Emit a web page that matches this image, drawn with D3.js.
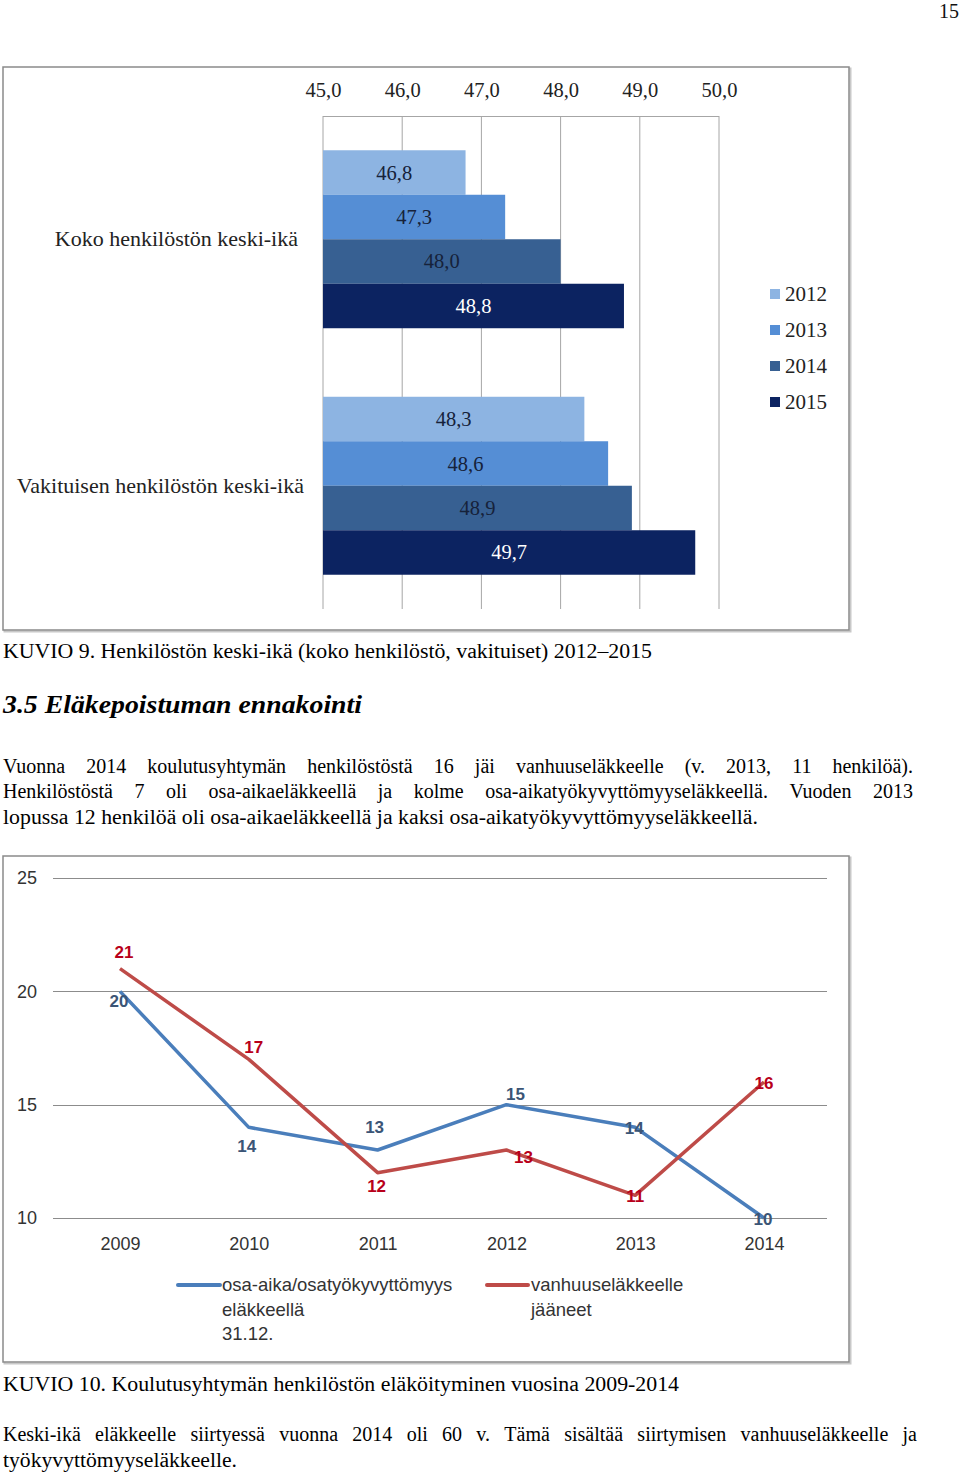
<!DOCTYPE html>
<html><head><meta charset="utf-8">
<script src="https://cdn.jsdelivr.net/npm/d3@7"></script>
<style>
html,body{margin:0;padding:0;background:#fff;}
svg{display:block;}
</style></head>
<body>
<script>
// ---- Chart 1 data ----
const categories = ["Koko henkilöstön keski-ikä", "Vakituisen henkilöstön keski-ikä"];
const years1 = ["2012", "2013", "2014", "2015"];
const kokoValues = [46.8, 47.3, 48.0, 48.8];
const vakituinenValues = [48.3, 48.6, 48.9, 49.7];
const xTickValues1 = [45, 46, 47, 48, 49, 50];
const barColors = ["#8db4e2", "#558ed5", "#376092", "#0c2361"];

// ---- Chart 2 data ----
const years2 = ["2009", "2010", "2011", "2012", "2013", "2014"];
const osaAikaValues = [20, 14, 13, 15, 14, 10];
const vanhuusValues = [21, 17, 12, 13, 11, 16];
const yTickValues2 = [10, 15, 20, 25];
const seriesNames2 = [["osa-aika/osatyökyvyttömyys", "eläkkeellä", "31.12."], ["vanhuuseläkkeelle", "jääneet"]];

const W = 960, H = 1473;
const svg = d3.select("body").append("svg").attr("width", W).attr("height", H);
const serif = "'Liberation Serif', 'Times New Roman', serif";
const sans = "'Liberation Sans', Arial, sans-serif";
const fmt = v => d3.format(".1f")(v).replace(".", ",");

// page number
svg.append("text").attr("x", 959).attr("y", 18).attr("text-anchor", "end")
  .attr("font-family", serif).attr("font-size", 20).attr("fill", "#111").text("15");

function frame(x0, y0, x1, y1) {
  svg.append("rect").attr("x", x0 + 1.5).attr("y", y0 + 1.5).attr("width", x1 - x0).attr("height", y1 - y0)
    .attr("fill", "none").attr("stroke", "#c8c8c8").attr("stroke-width", 2);
  svg.append("rect").attr("x", x0).attr("y", y0).attr("width", x1 - x0).attr("height", y1 - y0)
    .attr("fill", "#fff").attr("stroke", "#8a8a8a").attr("stroke-width", 1.5);
}

// ================= Chart 1 =================
frame(3, 67, 849, 630);
const g1 = svg.append("g");
const x1 = d3.scaleLinear().domain([45, 50]).range([323, 719]);
const yCat = d3.scaleBand().domain(categories).range([116, 609]);
const yYear = d3.scaleBand().domain(years1).range([0, yCat.bandwidth()]).paddingInner(0).paddingOuter(0.77);

// grid
g1.selectAll("line.grid").data(xTickValues1).join("line")
  .attr("x1", d => x1(d)).attr("x2", d => x1(d)).attr("y1", 116).attr("y2", 609)
  .attr("stroke", "#a6a6a6").attr("stroke-width", 1);
g1.append("line").attr("x1", x1(45)).attr("x2", x1(50)).attr("y1", 116.5).attr("y2", 116.5)
  .attr("stroke", "#a6a6a6").attr("stroke-width", 1);

// top axis labels
const ax1 = d3.axisTop(x1).tickValues(xTickValues1).tickFormat(fmt).tickSize(0).tickPadding(0);
const axG = g1.append("g").attr("transform", "translate(0,97)").call(ax1);
axG.select(".domain").remove();
axG.selectAll("text").attr("font-family", serif).attr("font-size", 20.5).attr("fill", "#222").attr("dy", 0);

const seriesByCat = [kokoValues, vakituinenValues];
const catLabelEnd = [298, 304];
categories.forEach((cat, ci) => {
  const vals = seriesByCat[ci];
  const cg = g1.append("g").attr("transform", `translate(0,${yCat(cat)})`);
  cg.selectAll("rect").data(vals).join("rect")
    .attr("x", x1(45)).attr("y", (d, i) => yYear(years1[i]))
    .attr("width", d => x1(d) - x1(45)).attr("height", yYear.bandwidth())
    .attr("fill", (d, i) => barColors[i]);
  cg.selectAll("text.val").data(vals).join("text")
    .attr("x", d => (x1(d) + x1(45)) / 2).attr("y", (d, i) => yYear(years1[i]) + yYear.bandwidth() / 2 + 7)
    .attr("text-anchor", "middle").attr("font-family", serif).attr("font-size", 20.5)
    .attr("fill", (d, i) => i === 3 ? "#ffffff" : "#16223a").text(d => fmt(d));
  g1.append("text").attr("x", catLabelEnd[ci]).attr("y", yCat(cat) + yCat.bandwidth() / 2 + 7)
    .attr("text-anchor", "end").attr("font-family", serif).attr("font-size", 22).attr("fill", "#222").text(cat);
});

// legend 1
const leg1 = g1.append("g");
years1.forEach((yr, i) => {
  const cy = 294 + i * 36;
  leg1.append("rect").attr("x", 770).attr("y", cy - 5).attr("width", 10).attr("height", 10).attr("fill", barColors[i]);
  leg1.append("text").attr("x", 785).attr("y", cy + 7).attr("font-family", serif).attr("font-size", 21).attr("fill", "#222").text(yr);
});

// ================= Text =================
function textLine(str, x, y, width, opts = {}) {
  const t = svg.append("text").attr("x", x).attr("y", y).attr("font-family", serif)
    .attr("font-size", opts.size || 20).attr("fill", "#000").text(str);
  if (opts.bold) t.attr("font-weight", "bold");
  if (opts.italic) t.attr("font-style", "italic");
  if (width) t.attr("textLength", width).attr("lengthAdjust", "spacingAndGlyphs");
  return t;
}
function justifyLine(str, x, y, width, size = 20) {
  const words = str.split(" ");
  const g = svg.append("g");
  const nodes = words.map(w => g.append("text").attr("y", y).attr("font-family", serif).attr("font-size", size).attr("fill", "#000").text(w));
  const ws = nodes.map(n => n.node().getComputedTextLength());
  let sum = d3.sum(ws);
  let scale = 1;
  const minGap = 4;
  if (sum + minGap * (words.length - 1) > width) {
    scale = (width - minGap * (words.length - 1)) / sum;
  }
  const gap = (width - sum * scale) / (words.length - 1);
  let cx = x;
  nodes.forEach((n, i) => {
    n.attr("x", cx);
    if (scale !== 1) n.attr("textLength", ws[i] * scale).attr("lengthAdjust", "spacingAndGlyphs");
    cx += ws[i] * scale + gap;
  });
}

textLine("KUVIO 9. Henkilöstön keski-ikä (koko henkilöstö, vakituiset) 2012–2015", 3, 658, 649);
textLine("3.5 Eläkepoistuman ennakointi", 3, 713, 359, { size: 26, bold: true, italic: true });
justifyLine("Vuonna 2014 koulutusyhtymän henkilöstöstä 16 jäi vanhuuseläkkeelle (v. 2013, 11 henkilöä).", 3, 773, 910);
justifyLine("Henkilöstöstä 7 oli osa-aikaeläkkeellä ja kolme osa-aikatyökyvyttömyyseläkkeellä. Vuoden 2013", 3, 798, 910);
textLine("lopussa 12 henkilöä oli osa-aikaeläkkeellä ja kaksi osa-aikatyökyvyttömyyseläkkeellä.", 3, 824, 755);
textLine("KUVIO 10. Koulutusyhtymän henkilöstön eläköityminen vuosina 2009-2014", 3, 1391, 676);
justifyLine("Keski-ikä eläkkeelle siirtyessä vuonna 2014 oli 60 v. Tämä sisältää siirtymisen vanhuuseläkkeelle ja", 3, 1441, 914);
textLine("työkyvyttömyyseläkkeelle.", 3, 1467, 234);

// ================= Chart 2 =================
frame(3, 856, 849, 1362);
const g2 = svg.append("g");
const x2 = d3.scalePoint().domain(years2).range([55.6, 828.4]).padding(0.5);
const y2 = d3.scaleLinear().domain([10, 25]).range([1218, 878]);

g2.selectAll("line.grid").data(yTickValues2).join("line")
  .attr("x1", 53).attr("x2", 827).attr("y1", d => Math.round(y2(d)) + 0.5).attr("y2", d => Math.round(y2(d)) + 0.5)
  .attr("stroke", "#8c8c8c").attr("stroke-width", 1);

const ay2 = d3.axisLeft(y2).tickValues(yTickValues2).tickSize(0).tickPadding(0);
const ayG = g2.append("g").attr("transform", "translate(37,0)").call(ay2);
ayG.select(".domain").remove();
ayG.selectAll("text").attr("font-family", sans).attr("font-size", 18).attr("fill", "#333");

const ax2 = d3.axisBottom(x2).tickSize(0).tickPadding(0);
const axG2 = g2.append("g").attr("transform", "translate(0,1237)").call(ax2);
axG2.select(".domain").remove();
axG2.selectAll("text").attr("font-family", sans).attr("font-size", 18).attr("fill", "#333");

const lineGen = vals => d3.line().x((d, i) => x2(years2[i])).y(d => y2(d))(vals);
const blue = "#4a7ebb", red = "#be4b48";
g2.append("path").attr("d", lineGen(osaAikaValues)).attr("fill", "none").attr("stroke", blue).attr("stroke-width", 3.5).attr("stroke-linejoin", "round");
g2.append("path").attr("d", lineGen(vanhuusValues)).attr("fill", "none").attr("stroke", red).attr("stroke-width", 3.5).attr("stroke-linejoin", "round");

const blueOffsets = [[-1, 10], [-2, 19], [-3, -23], [9, -11], [-1, 1], [-1, 1]];
const redOffsets = [[4, -17], [5, -12], [-1, 13], [17, 7], [0, 1], [0, 1]];
g2.selectAll("text.bl").data(osaAikaValues).join("text")
  .attr("x", (d, i) => x2(years2[i]) + blueOffsets[i][0]).attr("y", (d, i) => y2(d) + blueOffsets[i][1] + 6)
  .attr("text-anchor", "middle").attr("font-family", sans).attr("font-size", 17).attr("font-weight", "bold")
  .attr("fill", "#3b5576").text(d => d);
g2.selectAll("text.rd").data(vanhuusValues).join("text")
  .attr("x", (d, i) => x2(years2[i]) + redOffsets[i][0]).attr("y", (d, i) => y2(d) + redOffsets[i][1] + 6)
  .attr("text-anchor", "middle").attr("font-family", sans).attr("font-size", 17).attr("font-weight", "bold")
  .attr("fill", "#b8001a").text(d => d);

// legend 2
const legX = [[178, 220, 222], [487, 528, 531]];
const legColors = [blue, red];
seriesNames2.forEach((lines, si) => {
  g2.append("line").attr("x1", legX[si][0]).attr("x2", legX[si][1]).attr("y1", 1285).attr("y2", 1285)
    .attr("stroke", legColors[si]).attr("stroke-width", 4).attr("stroke-linecap", "round");
  lines.forEach((ln, li) => {
    g2.append("text").attr("x", legX[si][2]).attr("y", 1291 + li * 24.5).attr("font-family", sans)
      .attr("font-size", 18.5).attr("fill", "#333").text(ln);
  });
});
</script>
</body></html>
